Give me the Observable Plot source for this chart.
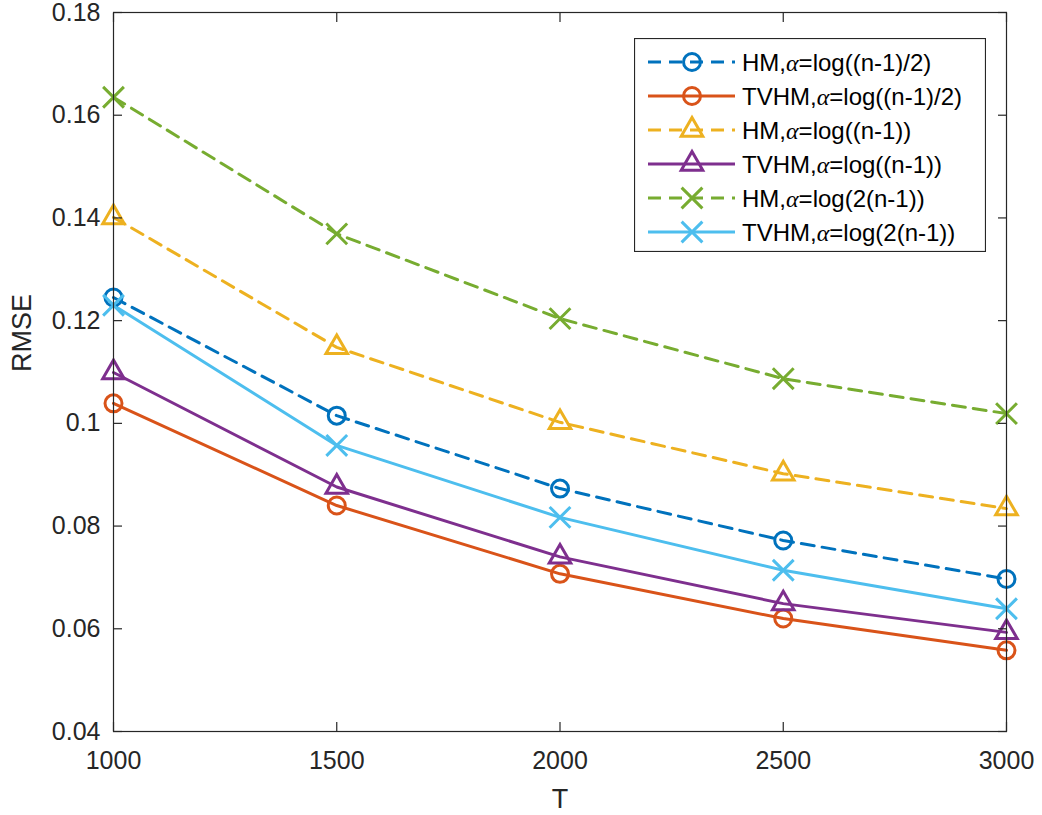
<!DOCTYPE html>
<html><head><meta charset="utf-8">
<script src="https://cdn.jsdelivr.net/npm/d3@7"></script>
<script src="https://cdn.jsdelivr.net/npm/@observablehq/plot@0.6"></script>
<style>
body{margin:0;background:#fff}
#wrap{position:relative;width:1042px;height:815px}
#legend{position:absolute;left:634px;top:38px}
</style>
</head><body><div id="wrap"></div>
<script>
// ---- data ----
const T = [1000, 1500, 2000, 2500, 3000];
const hmHalf    = [0.1245, 0.1015, 0.0873, 0.0772, 0.0697];
const tvhmHalf  = [0.1039, 0.0840, 0.0707, 0.0620, 0.0558];
const hmOne     = [0.1401, 0.1148, 0.1002, 0.0902, 0.0834];
const tvhmOne   = [0.1099, 0.0876, 0.0740, 0.0649, 0.0593];
const hmTwo     = [0.1635, 0.1369, 0.1204, 0.1087, 0.1019];
const tvhmTwo   = [0.1230, 0.0957, 0.0817, 0.0714, 0.0639];
const seriesValues = [hmHalf, tvhmHalf, hmOne, tvhmOne, hmTwo, tvhmTwo];
const legendPrefix = ["HM", "TVHM", "HM", "TVHM", "HM", "TVHM"];
const legendSuffix = ["log((n-1)/2)", "log((n-1)/2)", "log((n-1))", "log((n-1))", "log(2(n-1))", "log(2(n-1))"];
const colors = ["#0072BD", "#D95319", "#EDB120", "#7E2F8E", "#77AC30", "#4DBEEE"];
const symbols = ["circle", "circle", "triangle", "triangle", "times", "times"];
const dashed = [true, false, true, false, true, false];
const xTicks = [1000, 1500, 2000, 2500, 3000];
const xTickLabels = ["1000", "1500", "2000", "2500", "3000"];
const yTicks = [0.04, 0.06, 0.08, 0.10, 0.12, 0.14, 0.16, 0.18];
const yTickLabels = ["0.04", "0.06", "0.08", "0.1", "0.12", "0.14", "0.16", "0.18"];
const xLabel = "T";
const yLabel = "RMSE";

// ---- build rows ----
const rows = [];
seriesValues.forEach((vals, s) => vals.forEach((v, i) => rows.push({T: T[i], v, s})));

const axisColor = "#262626";
const lw = 3;
const dash = "13,8";
const markerR = [8.5, 8.5, 8, 8, 9.5, 9.5];

const marks = [];
seriesValues.forEach((vals, s) => {
  const d = rows.filter(r => r.s === s);
  marks.push(Plot.line(d, {x: "T", y: "v", stroke: colors[s], strokeWidth: lw,
    strokeDasharray: dashed[s] ? dash : null}));
});
seriesValues.forEach((vals, s) => {
  const d = rows.filter(r => r.s === s);
  marks.push(Plot.dot(d, {x: "T", y: "v", symbol: symbols[s], stroke: colors[s], fill: "none",
    r: markerR[s], strokeWidth: lw}));
});

const chart = Plot.plot({
  width: 1042, height: 815,
  marginLeft: 113, marginRight: 36, marginTop: 12, marginBottom: 84,
  style: {fontFamily: "'Liberation Sans', Arial, sans-serif", fontSize: "25px", color: axisColor, background: "#fff", overflow: "visible"},
  x: {domain: [1000, 3000], axis: null},
  y: {domain: [0.04, 0.18], axis: null},
  symbol: {type: "identity"},
  marks: [
    ...marks,
    Plot.frame({stroke: axisColor, strokeWidth: 1.2}),
    Plot.axisX({anchor: "bottom", ticks: xTicks, tickSize: 0, tickPadding: 20,
      tickFormat: (d, i) => xTickLabels[i], label: null, fill: axisColor}),
    Plot.axisX({anchor: "bottom", ticks: xTicks, tickSize: -9, text: null, label: null, stroke: axisColor, strokeWidth: 1.2}),
    Plot.axisX({anchor: "top", ticks: xTicks, tickSize: -9, text: null, label: null, stroke: axisColor, strokeWidth: 1.2}),
    Plot.axisY({anchor: "left", ticks: yTicks, tickSize: 0, tickPadding: 13,
      tickFormat: (d, i) => yTickLabels[i], label: null, fill: axisColor, lineAnchor: "middle"}),
    Plot.axisY({anchor: "left", ticks: yTicks, tickSize: -9, text: null, label: null, stroke: axisColor, strokeWidth: 1.2}),
    Plot.axisY({anchor: "right", ticks: yTicks, tickSize: -9, text: null, label: null, stroke: axisColor, strokeWidth: 1.2}),
    Plot.text([xLabel], {frameAnchor: "bottom", dy: 76, fontSize: 27, fill: axisColor}),
    Plot.text([yLabel], {frameAnchor: "left", rotate: -90, dx: -91, fontSize: 27, fill: axisColor})
  ]
});
const wrap = document.getElementById("wrap");
wrap.appendChild(chart);

// ---- legend overlay ----
const LW = 352, LH = 214;
const leg = d3.select(wrap).append("svg").attr("id", "legend")
  .attr("width", LW).attr("height", LH)
  .style("font-family", "'Liberation Sans', Arial, sans-serif");
leg.append("rect").attr("x", 0.5).attr("y", 0.5).attr("width", LW - 1).attr("height", LH - 1)
  .attr("fill", "#fff").attr("stroke", axisColor).attr("stroke-width", 1.2);
const symMap = {circle: d3.symbolCircle, triangle: d3.symbolTriangle, times: d3.symbolTimes};
legendPrefix.forEach((p, i) => {
  const y = 24 + i * 34;
  const g = leg.append("g");
  g.append("line").attr("x1", 14).attr("x2", 101).attr("y1", y).attr("y2", y)
    .attr("stroke", colors[i]).attr("stroke-width", lw)
    .attr("stroke-dasharray", dashed[i] ? dash : null);
  g.append("path").attr("transform", `translate(58,${y})`)
    .attr("d", d3.symbol(symMap[symbols[i]], Math.PI * markerR[i] * markerR[i])())
    .attr("fill", "none").attr("stroke", colors[i]).attr("stroke-width", lw);
  const t = g.append("text").attr("x", 108).attr("y", y).attr("dy", "0.36em")
    .attr("font-size", 24).attr("fill", "#000");
  t.append("tspan").text(p + ",");
  t.append("tspan").attr("font-family", "'Liberation Serif', serif").attr("font-style", "italic").text("α");
  t.append("tspan").text("=" + legendSuffix[i]);
});
</script>
</body></html>
